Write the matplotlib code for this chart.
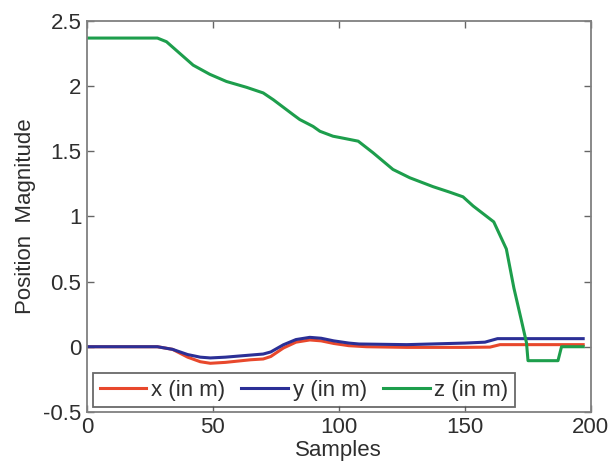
import matplotlib
matplotlib.use("Agg")
import matplotlib.pyplot as plt

# Position traces over samples
x_samples = [0, 28, 34, 40, 45, 49, 55, 60, 65, 70, 73, 78, 83, 88.5, 93, 98, 104, 111, 127, 150, 160, 164, 197]
x_values = [0.0, 0.0, -0.02, -0.08, -0.115, -0.127, -0.12, -0.11, -0.10, -0.094, -0.075, -0.01, 0.035, 0.052, 0.045, 0.025, 0.008, 0.0, -0.005, -0.005, -0.003, 0.016, 0.016]

y_samples = [0, 28, 34, 40, 45, 49, 55, 60, 65, 70, 73, 78, 83, 88.5, 93, 98, 104, 108, 127, 150, 158, 163, 197]
y_values = [0.0, 0.0, -0.02, -0.06, -0.08, -0.086, -0.08, -0.072, -0.064, -0.056, -0.04, 0.015, 0.055, 0.072, 0.065, 0.045, 0.028, 0.021, 0.016, 0.028, 0.035, 0.062, 0.062]

z_samples = [0, 28, 31.6, 36.9, 42.2, 48.8, 55.4, 63.4, 70, 74, 81.9, 84.5, 89.8, 92.5, 97.7, 100.4, 107.7, 113.6, 121.5, 128.2, 137.4, 144, 149.3, 153.3, 161.5, 166.5, 169.5, 172.5, 174.5, 175.1, 187, 188.4, 197]
z_values = [2.368, 2.368, 2.34, 2.25, 2.16, 2.09, 2.035, 1.99, 1.947, 1.895, 1.78, 1.743, 1.69, 1.653, 1.615, 1.605, 1.577, 1.488, 1.36, 1.296, 1.228, 1.186, 1.15, 1.08, 0.958, 0.75, 0.45, 0.2, 0.03, -0.107, -0.107, 0.0, 0.0]

series_labels = ["x (in m)", "y (in m)", "z (in m)"]
x_ticks = [0, 50, 100, 150, 200]
y_ticks = [-0.5, 0, 0.5, 1, 1.5, 2, 2.5]
y_tick_labels = ["-0.5", "0", "0.5", "1", "1.5", "2", "2.5"]

plt.rcParams["font.family"] = ["Liberation Sans", "DejaVu Sans"]

fig = plt.figure(figsize=(6.16, 4.74), dpi=100)
ax = fig.add_axes([0.141, 0.131, 0.818, 0.825])

ax.plot(x_samples, x_values, color="#e8482c", lw=2.2, label=series_labels[0])
ax.plot(y_samples, y_values, color="#2b2f96", lw=2.2, label=series_labels[1])
ax.plot(z_samples, z_values, color="#1d9e4c", lw=2.2, label=series_labels[2])

ax.set_xlim(0, 200)
ax.set_ylim(-0.5, 2.5)
ax.set_xticks(x_ticks)
ax.set_xticklabels([str(t) for t in x_ticks])
ax.set_yticks(y_ticks)
ax.set_yticklabels(y_tick_labels)

text_color = "#2e2e2e"
ax.tick_params(direction="in", top=True, right=True, length=5, width=1,
               color="#666666", labelsize=16, labelcolor=text_color, pad=4)
for s in ax.spines.values():
    s.set_color("#808080")
    s.set_linewidth(1.3)

ax.set_xlabel("Samples", fontsize=16, color=text_color, labelpad=1)
ax.set_ylabel("Position  Magnitude", fontsize=16, color=text_color, labelpad=5)

leg = ax.legend(loc="lower left", bbox_to_anchor=(0.012, 0.012), ncol=3,
                fontsize=16, frameon=True, fancybox=False, handlelength=2.1,
                handletextpad=0.2, columnspacing=0.75, borderpad=0.3,
                borderaxespad=0.0, labelcolor=text_color)
leg.get_frame().set_edgecolor("#444444")
leg.get_frame().set_linewidth(1.3)

fig.savefig("out.png", dpi=100)
